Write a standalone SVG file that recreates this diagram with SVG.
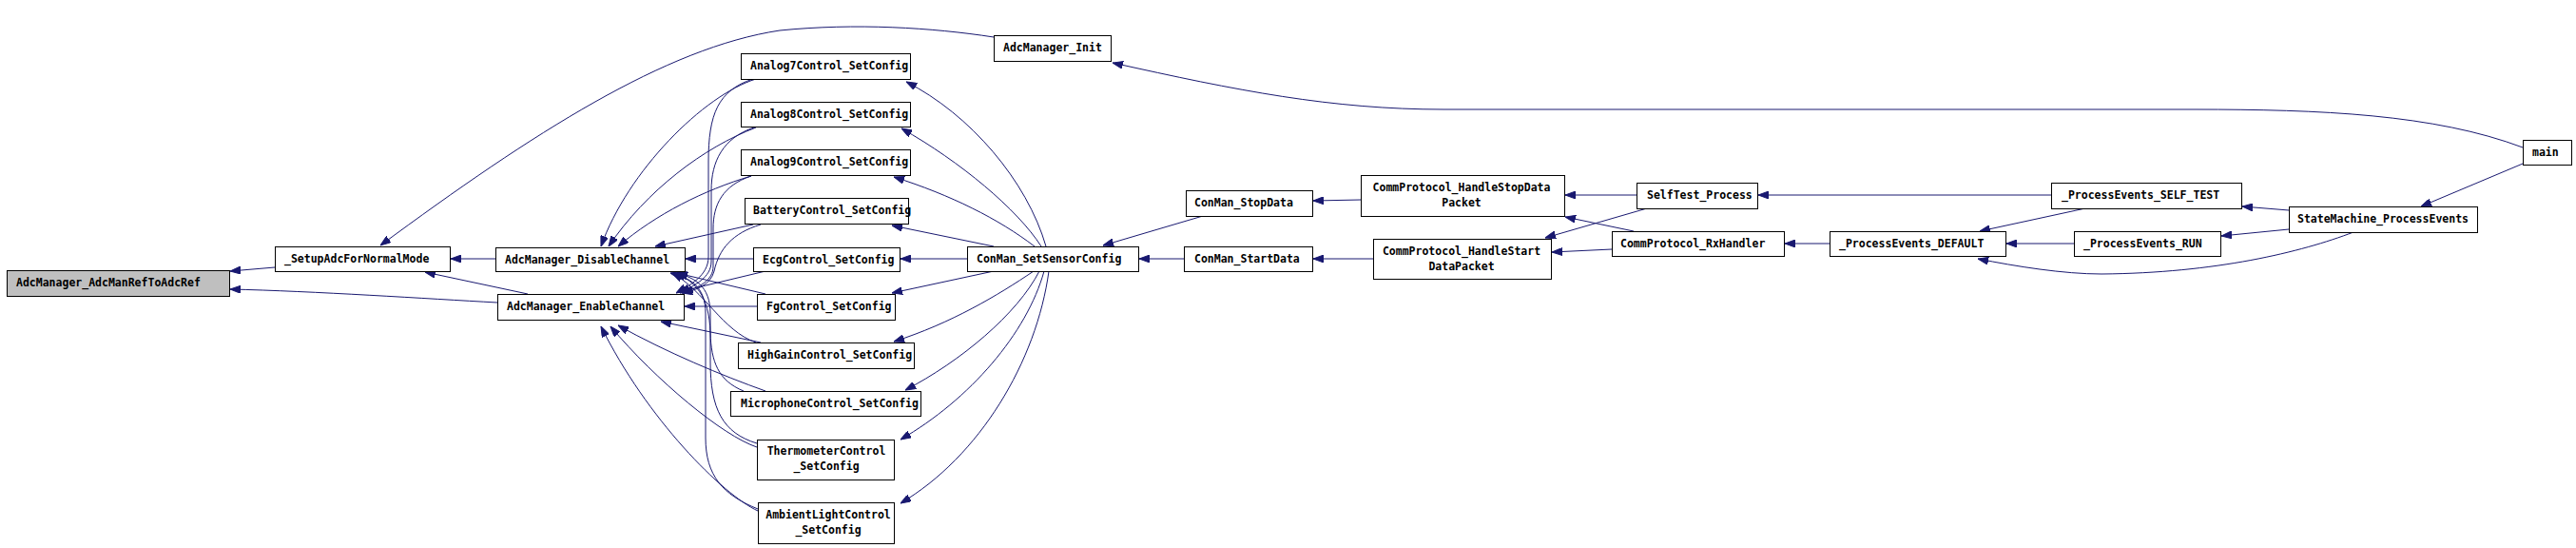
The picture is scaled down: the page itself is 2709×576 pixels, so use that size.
<svg xmlns="http://www.w3.org/2000/svg" width="2709" height="576" viewBox="0 0 2709 576">
<style>
.n rect{fill:#fff;stroke:#000;stroke-width:1}
.n text{font-family:"DejaVu Sans Mono","Liberation Mono",monospace;font-size:11.5px;font-weight:bold;fill:#000}
.c{text-anchor:middle}
#edges path{fill:none;stroke:#191970;stroke-width:1;marker-end:url(#ah)}
</style>
<defs>
<marker id="ah" markerUnits="userSpaceOnUse" markerWidth="11" markerHeight="8" refX="11" refY="4" orient="auto">
<path d="M0,0 L11,4 L0,8 z" fill="#191970" stroke="#191970"/>
</marker>
</defs>
<rect width="2709" height="576" fill="#fff"/>
<g id="edges">
<path d="M289,281 L242,285"/>
<path d="M523,318 C450,314 330,306 242,304"/>
<path d="M1045,39 C980,29 900,24 820,32 C700,50 560,140 400,258"/>
<path d="M521,272 L474,272"/>
<path d="M555,309 L447,286"/>
<path d="M795,83 C740,100 660,180 632,259"/>
<path d="M795,134 C740,155 680,200 640,259"/>
<path d="M790,185 C740,200 690,225 650,259"/>
<path d="M792,236 L689,259"/>
<path d="M792,83 C755,95 745,120 745,170 L745,270 C745,290 725,300 711,308"/>
<path d="M793,134 C760,145 748,170 748,200 L748,275 C748,292 730,300 715,308"/>
<path d="M790,185 C760,195 750,215 750,240 L750,280 C750,295 735,302 718,308"/>
<path d="M800,236 C770,245 756,262 751,285 C747,300 732,305 717,308"/>
<path d="M792,272 L721,272"/>
<path d="M805,285 L713,307"/>
<path d="M805,309 L712,287"/>
<path d="M796,322 L720,322"/>
<path d="M795,360 C760,348 740,305 707,287"/>
<path d="M800,360 L695,338"/>
<path d="M782,411 C755,400 748,380 747,350 C746,310 730,295 710,287"/>
<path d="M805,411 C760,395 700,370 650,342"/>
<path d="M796,466 C760,455 747,430 747,380 L747,330 C747,300 730,292 712,287"/>
<path d="M796,470 C760,458 690,400 642,343"/>
<path d="M797,535 C760,520 742,500 742,460 L742,330 C742,300 725,292 705,287"/>
<path d="M797,537 C760,520 680,440 632,343"/>
<path d="M1100,259 C1080,190 1020,120 953,86"/>
<path d="M1095,259 C1070,220 1010,170 948,135"/>
<path d="M1088,259 C1050,230 1000,205 940,186"/>
<path d="M1045,259 L938,237"/>
<path d="M1017,272 L947,272"/>
<path d="M1045,285 L938,308"/>
<path d="M1087,285 C1050,310 1000,340 940,359"/>
<path d="M1093,285 C1070,330 1010,380 952,410"/>
<path d="M1098,285 C1080,350 1020,420 947,462"/>
<path d="M1103,285 C1090,380 1030,480 947,529"/>
<path d="M1265,227 L1160,258"/>
<path d="M1245,272 L1198,272"/>
<path d="M1431,210 L1381,211"/>
<path d="M1444,272 L1381,272"/>
<path d="M1721,205 L1646,205"/>
<path d="M1732,219 L1625,250"/>
<path d="M1718,243 L1646,228"/>
<path d="M1695,262 L1632,265"/>
<path d="M2157,205 L1849,205"/>
<path d="M2193,219 L2082,243"/>
<path d="M1924,256 L1877,256"/>
<path d="M2181,256 L2110,256"/>
<path d="M2475,244 C2420,265 2330,287 2210,288 C2170,288 2120,280 2080,272"/>
<path d="M2407,221 L2358,217"/>
<path d="M2407,241 L2336,248"/>
<path d="M2653,172 L2546,217"/>
<path d="M2653,155 C2560,120 2440,115 2308,115 L1518,115 C1400,115 1300,95 1170,66"/>
</g>
<g id="n1" class="n"><rect x="7.5" y="284.5" width="234" height="27" style="fill:#bfbfbf"/><text x="17" y="301">AdcManager_AdcManRefToAdcRef</text></g>
<g id="n2" class="n"><rect x="289.5" y="259.5" width="184" height="26"/><text x="299" y="276">_SetupAdcForNormalMode</text></g>
<g id="n3" class="n"><rect x="521.5" y="260.5" width="199" height="25"/><text x="531" y="277">AdcManager_DisableChannel</text></g>
<g id="n4" class="n"><rect x="523.5" y="309.5" width="196" height="27"/><text x="533" y="326">AdcManager_EnableChannel</text></g>
<g id="n5" class="n"><rect x="779.5" y="56.5" width="178" height="27"/><text x="789" y="73">Analog7Control_SetConfig</text></g>
<g id="n6" class="n"><rect x="779.5" y="107.5" width="178" height="26"/><text x="789" y="124">Analog8Control_SetConfig</text></g>
<g id="n7" class="n"><rect x="779.5" y="157.5" width="178" height="27"/><text x="789" y="174">Analog9Control_SetConfig</text></g>
<g id="n8" class="n"><rect x="783.5" y="208.5" width="172" height="27"/><text x="792" y="225">BatteryControl_SetConfig</text></g>
<g id="n9" class="n"><rect x="792.5" y="260.5" width="154" height="25"/><text x="802" y="277">EcgControl_SetConfig</text></g>
<g id="n10" class="n"><rect x="796.5" y="309.5" width="145" height="27"/><text x="806" y="326">FgControl_SetConfig</text></g>
<g id="n11" class="n"><rect x="776.5" y="360.5" width="185" height="27"/><text x="786" y="377">HighGainControl_SetConfig</text></g>
<g id="n12" class="n"><rect x="768.5" y="411.5" width="200" height="26"/><text x="779" y="428">MicrophoneControl_SetConfig</text></g>
<g id="n13" class="n"><rect x="796.5" y="462.5" width="144" height="42"/><text class="c" x="869" y="478">ThermometerControl</text><text class="c" x="869" y="494">_SetConfig</text></g>
<g id="n14" class="n"><rect x="797.5" y="528.5" width="143" height="43"/><text class="c" x="871" y="545">AmbientLightControl</text><text class="c" x="871" y="561">_SetConfig</text></g>
<g id="n15" class="n"><rect x="1045.5" y="37.5" width="123" height="27"/><text x="1055" y="54">AdcManager_Init</text></g>
<g id="n16" class="n"><rect x="1017.5" y="259.5" width="180" height="26"/><text x="1027" y="276">ConMan_SetSensorConfig</text></g>
<g id="n17" class="n"><rect x="1247.5" y="200.5" width="133" height="27"/><text x="1256" y="217">ConMan_StopData</text></g>
<g id="n18" class="n"><rect x="1245.5" y="259.5" width="135" height="26"/><text x="1256" y="276">ConMan_StartData</text></g>
<g id="n19" class="n"><rect x="1431.5" y="184.5" width="214" height="43"/><text class="c" x="1537" y="201">CommProtocol_HandleStopData</text><text class="c" x="1537" y="217">Packet</text></g>
<g id="n20" class="n"><rect x="1444.5" y="251.5" width="187" height="42"/><text class="c" x="1537" y="268">CommProtocol_HandleStart</text><text class="c" x="1537" y="284">DataPacket</text></g>
<g id="n21" class="n"><rect x="1721.5" y="192.5" width="127" height="27"/><text x="1732" y="209">SelfTest_Process</text></g>
<g id="n22" class="n"><rect x="1695.5" y="243.5" width="181" height="26"/><text x="1704" y="260">CommProtocol_RxHandler</text></g>
<g id="n23" class="n"><rect x="2157.5" y="192.5" width="200" height="27"/><text x="2168" y="209">_ProcessEvents_SELF_TEST</text></g>
<g id="n24" class="n"><rect x="1924.5" y="243.5" width="185" height="26"/><text x="1934" y="260">_ProcessEvents_DEFAULT</text></g>
<g id="n25" class="n"><rect x="2181.5" y="243.5" width="154" height="26"/><text x="2191" y="260">_ProcessEvents_RUN</text></g>
<g id="n26" class="n"><rect x="2407.5" y="217.5" width="198" height="27"/><text x="2416" y="234">StateMachine_ProcessEvents</text></g>
<g id="n27" class="n"><rect x="2653.5" y="147.5" width="51" height="26"/><text x="2663" y="164">main</text></g>
</svg>
